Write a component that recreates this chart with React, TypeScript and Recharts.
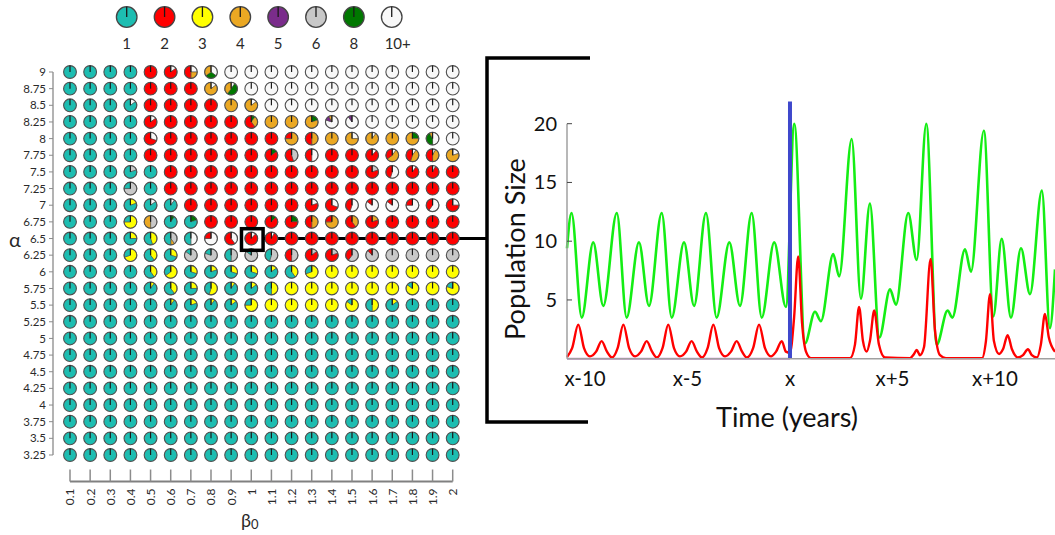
import React from 'react';
import {
  ScatterChart,
  Scatter,
  XAxis,
  YAxis,
  ReferenceLine,
  ReferenceDot,
  LineChart,
  Line,
} from 'recharts';

const FONT = 'Lato, "Open Sans", sans-serif';

// ---- Parameter scan (pie grid) ----
const BETA0 = [0.1, 0.2, 0.3, 0.4, 0.5, 0.6, 0.7, 0.8, 0.9, 1, 1.1, 1.2, 1.3, 1.4, 1.5, 1.6, 1.7, 1.8, 1.9, 2];
const ALPHA = [9, 8.75, 8.5, 8.25, 8, 7.75, 7.5, 7.25, 7, 6.75, 6.5, 6.25, 6, 5.75, 5.5, 5.25, 5, 4.75, 4.5, 4.25, 4, 3.75, 3.5, 3.25];

// Cycle-period classes: key letter, legend label, colour
const PERIOD_KEYS = ['T', 'R', 'Y', 'O', 'P', 'G', 'D', 'W'];
const PERIOD_LABELS = ['1', '2', '3', '4', '5', '6', '8', '10+'];
const PERIOD_COLORS = ['#1dbdb1', '#ff0000', '#ffff00', '#eba823', '#7a2c8b', '#c8c8c8', '#007800', '#f8f8f8'];
// slices run clockwise from 12 o'clock, longest period first
const SLICE_ORDER = ['W', 'D', 'G', 'P', 'O', 'Y', 'R', 'T'];

// One string per alpha row, one token per beta0 column (0.1 .. 2).
// Token = class letters with percentage shares, a bare letter means 100 %.
const row_9 = 'T T T T R W15R85 W25O25R50 W35D30O35 W W W W W W W W W W W W';
const row_8_75 = 'T T T T R R R W15O85 W10D50O40 W W W W W W W W W W W';
const row_8_5 = 'T T T W15T85 R R R R O W15O85 W W W W W W W W W W';
const row_8_25 = 'T T T T W15R85 R R R R D10O30R60 O O D20O80 W80P12O8 W90P10 W W W W W';
const row_8 = 'T T T T W30R70 R R R R R R O75R25 O50R50 O W25O75 W10O90 O D25O75 W50D42O8 W';
const row_7_75 = 'T T T T R R R R R R D15R85 G45R55 W50R50 R R W12R88 W10O55R35 W10O45R45 W8O42R50 W20O80';
const row_7_5 = 'T T T G20T80 T R R R R R R R R R R G20R80 W55R45 W10R90 W8R92 R';
const row_7_25 = 'T T T G75T25 T R R R R R R R R R R R R R R R';
const row_7 = 'T T T Y20T80 W15T85 W10T90 R R R R R R W20R80 W30R70 W55R45 W85R15 W85R15 W75R25 W60R40 W25R75';
const row_6_75 = 'T T T Y75T25 G50O50 D10T90 D20T80 R R R D12R88 D25R75 O50R50 O75R25 O40R60 O20R80 R R R R';
const row_6_5 = 'T T T Y25T75 Y45T55 G40O10T50 W50T50 W75R25 W40R60 W12R88 W8R92 R R R R R R R R R';
const row_6_25 = 'T T T Y70T30 Y40T60 Y30T70 G85T15 G80T20 G50T50 G85T15 G55T45 G50R50 G15R85 G20R80 G60R40 G88R12 G G G G';
const row_6 = 'T T T T Y40T60 Y65T35 Y30T70 Y20T80 Y30T70 Y30T70 Y15T85 Y40T60 Y70T30 Y Y Y Y Y Y Y';
const row_5_75 = 'T T T T Y10T90 Y40T60 Y25T75 Y55T45 Y10T90 Y15T85 Y50T50 Y Y Y Y Y Y Y85T15 Y Y80T20';
const row_5_5 = 'T T T T T Y10T90 Y20T80 Y10T90 Y15T85 Y75T25 Y Y Y Y Y85T15 Y50T50 Y15T85 T T T';
const row_5_25 = 'T T T T T T T T T T T T T T T T T T T T';
const row_5 = 'T T T T T T T T T T T T T T T T T T T T';
const row_4_75 = 'T T T T T T T T T T T T T T T T T T T T';
const row_4_5 = 'T T T T T T T T T T T T T T T T T T T T';
const row_4_25 = 'T T T T T T T T T T T T T T T T T T T T';
const row_4 = 'T T T T T T T T T T T T T T T T T T T T';
const row_3_75 = 'T T T T T T T T T T T T T T T T T T T T';
const row_3_5 = 'T T T T T T T T T T T T T T T T T T T T';
const row_3_25 = 'T T T T T T T T T T T T T T T T T T T T';

const ROWS = [
  row_9, row_8_75, row_8_5, row_8_25, row_8, row_7_75, row_7_5, row_7_25, row_7, row_6_75,
  row_6_5, row_6_25, row_6, row_5_75, row_5_5, row_5_25, row_5, row_4_75, row_4_5, row_4_25,
  row_4, row_3_75, row_3_5, row_3_25,
];

// Highlighted run shown in the time series
const HIGHLIGHT = { beta0: 1, alpha: 6.5 };

// ---- Time series around the switch at year x ----
const TIME_TICKS = [-10, -5, 0, 5, 10];
const TIME_LABELS = ['x-10', 'x-5', 'x', 'x+5', 'x+10'];
const POP_TICKS = [5, 10, 15, 20];

const GREEN_T = [-10.88, -10.66, -10.16, -9.6, -9.11, -8.45, -7.97, -7.37, -6.88, -6.26, -5.77, -5.17, -4.68, -4.1, -3.58, -2.96, -2.44, -1.87, -1.38, -0.77, -0.2, 0.21, 0.73, 1.22, 1.51, 2.11, 2.4, 3.01, 3.46, 3.9, 4.36, 4.88, 5.17, 5.77, 6.18, 6.65, 7.16, 7.69, 7.92, 8.54, 8.83, 9.46, 9.92, 10.33, 10.78, 11.27, 11.71, 12.29, 12.68, 12.93];
const GREEN_V = [9.4, 12.4, 3.5, 9.9, 4.5, 12.4, 3.5, 9.9, 4.5, 12.4, 3.5, 9.9, 4.5, 12.4, 3.5, 9.9, 4.5, 12.4, 3.5, 9.9, 4.4, 20, 1.3, 4.0, 3.2, 8.9, 7.0, 18.7, 5.1, 13.2, 1.8, 5.9, 4.6, 12.4, 8.4, 20, 1.2, 4.1, 3.5, 9.3, 7.4, 19.4, 3.6, 10.2, 3.5, 9.4, 5.5, 14.3, 2.6, 7.6];

const RED_T = [-10.88, -10.63, -10.33, -10.05, -9.76, -9.46, -9.19, -8.93, -8.68, -8.41, -8.13, -7.85, -7.56, -7.27, -6.99, -6.73, -6.49, -6.22, -5.94, -5.66, -5.37, -5.07, -4.8, -4.54, -4.29, -4.02, -3.74, -3.46, -3.17, -2.88, -2.6, -2.34, -2.1, -1.8, -1.51, -1.22, -0.93, -0.68, -0.4, -0.2, 0, 0.2, 0.4, 0.59, 0.78, 1.02, 2.93, 3.17, 3.37, 3.56, 3.74, 3.9, 4.11, 4.34, 4.63, 5.85, 6.05, 6.18, 6.34, 6.54, 6.86, 7.07, 7.32, 7.61, 9.37, 9.56, 9.76, 9.95, 10.2, 10.39, 10.62, 10.83, 11.12, 11.37, 11.61, 11.8, 12.05, 12.24, 12.44, 12.63, 12.93];
const RED_V = [0.15, 0.9, 2.9, 0.9, 0.2, 0.6, 1.5, 0.6, 0.1, 0.9, 2.9, 0.9, 0.2, 0.6, 1.5, 0.6, 0.1, 0.9, 2.9, 0.9, 0.2, 0.6, 1.5, 0.6, 0.1, 0.9, 2.9, 0.9, 0.2, 0.6, 1.5, 0.6, 0.1, 0.9, 2.9, 0.9, 0.2, 0.6, 1.5, 0.6, 0.5, 3.5, 8.7, 3.0, 0.6, 0.05, 0.05, 1.2, 4.4, 1.5, 0.6, 1.5, 4.1, 1.2, 0.1, 0.05, 0.4, 0.75, 0.3, 1.0, 8.5, 2.5, 0.3, 0.05, 0.05, 1.5, 5.5, 1.5, 0.4, 0.8, 2.0, 0.8, 0.1, 0.3, 0.8, 0.3, 0.1, 1.2, 3.8, 1.8, 0.6];

const PURPLE_T = [-10.88, 0];
const PURPLE_V = [0, 0];

// ---- derived tables ----
type Part = { k: string; v: number };

function parseCell(tok: string): Part[] {
  const out: Part[] = [];
  const re = /([A-Z])(\d*)/g;
  let m: RegExpExecArray | null;
  while ((m = re.exec(tok))) out.push({ k: m[1], v: m[2] ? Number(m[2]) : 100 });
  return out;
}

const CELLS = ALPHA.flatMap((a, i) =>
  ROWS[i].trim().split(/\s+/).map((tok, j) => ({ a, b: BETA0[j], parts: parseCell(tok) }))
);

const zip = (ts: number[], vs: number[]) => ts.map((t, i) => ({ t, v: vs[i] }));
const GREEN = zip(GREEN_T, GREEN_V);
const RED = zip(RED_T, RED_V);
const PURPLE = zip(PURPLE_T, PURPLE_V);

const colorOf = (k: string) => PERIOD_COLORS[PERIOD_KEYS.indexOf(k)];

function PieGlyph({ cx, cy, r, parts }: { cx: number; cy: number; r: number; parts: Part[] }) {
  const sorted = SLICE_ORDER.map((k) => parts.find((p) => p.k === k)).filter(Boolean) as Part[];
  const total = sorted.reduce((s, p) => s + p.v, 0);
  let ang = 0;
  const slices = sorted.map((p, i) => {
    const frac = p.v / total;
    const a0 = ang;
    const a1 = ang + frac * Math.PI * 2;
    ang = a1;
    if (frac > 0.999) return <circle key={i} cx={cx} cy={cy} r={r} fill={colorOf(p.k)} />;
    const x0 = cx + r * Math.sin(a0);
    const y0 = cy - r * Math.cos(a0);
    const x1 = cx + r * Math.sin(a1);
    const y1 = cy - r * Math.cos(a1);
    const large = a1 - a0 > Math.PI ? 1 : 0;
    return (
      <path
        key={i}
        d={`M${cx},${cy} L${x0},${y0} A${r},${r} 0 ${large} 1 ${x1},${y1} Z`}
        fill={colorOf(p.k)}
        stroke="#3a3a3a"
        strokeWidth={0.5}
      />
    );
  });
  return (
    <g>
      {slices}
      <circle cx={cx} cy={cy} r={r} fill="none" stroke="#505050" strokeWidth={1.1} />
      <line x1={cx} y1={cy} x2={cx} y2={cy - r} stroke="#1a1a1a" strokeWidth={1.2} />
    </g>
  );
}

const BetaTick = (props: any) => {
  const { x, y, payload } = props;
  return (
    <g>
      <line x1={x} x2={x} y1={y - 7} y2={y - 19} stroke="#8c8c8c" strokeWidth={1.5} />
      <text
        x={x}
        y={y}
        transform={`rotate(-90 ${x} ${y})`}
        textAnchor="end"
        dominantBaseline="central"
        fontSize={12}
        fill="#2a2a2a"
        fontFamily={FONT}
      >
        {payload.value}
      </text>
    </g>
  );
};

const PopTick = (props: any) => {
  const { x, y, payload } = props;
  return (
    <g>
      <line x1={x + 10} x2={x + 15} y1={y} y2={y} stroke="#444" strokeWidth={1} />
      <text x={x} y={y} dy="0.35em" textAnchor="end" fontSize={20} fill="#111" fontFamily={FONT}>
        {payload.value}
      </text>
    </g>
  );
};

const timeLabel = (v: number) => TIME_LABELS[TIME_TICKS.indexOf(v)] ?? '';

export default function App() {
  return (
    <div
      style={{
        position: 'absolute',
        left: 0,
        top: 0,
        width: 1055,
        height: 535,
        background: '#fff',
        overflow: 'hidden',
        fontFamily: FONT,
      }}
    >
      {/* pie grid */}
      <div style={{ position: 'absolute', left: 0, top: 0 }}>
        <ScatterChart width={500} height={535} margin={{ top: 72, right: 47.3, bottom: 23.5, left: 8 }}>
          <XAxis
            type="number"
            dataKey="b"
            domain={[0.0156, 2]}
            ticks={BETA0}
            interval={0}
            axisLine={false}
            tickLine={false}
            tickSize={0}
            tickMargin={7}
            height={30}
            tick={<BetaTick />}
          />
          <YAxis
            type="number"
            dataKey="a"
            domain={[2.852, 9]}
            ticks={ALPHA}
            interval={0}
            width={45}
            axisLine={false}
            tickSize={4}
            tickMargin={3}
            tickLine={{ stroke: '#8c8c8c' }}
            tick={{ fontSize: 11.5, fill: '#2a2a2a', fontFamily: FONT }}
          />
          <ReferenceLine
            segment={[{ x: 0.0156, y: 3.25 }, { x: 0.0156, y: 9 }]}
            stroke="#9a9a9a"
            strokeWidth={1.5}
            ifOverflow="visible"
          />
          <ReferenceLine
            segment={[{ x: 0.1, y: 2.852 }, { x: 2, y: 2.852 }]}
            stroke="#808080"
            strokeWidth={2}
            ifOverflow="visible"
          />
          <Scatter
            data={CELLS}
            isAnimationActive={false}
            shape={(p: any) => <PieGlyph cx={p.cx} cy={p.cy} r={6.4} parts={p.payload.parts} />}
          />
          <ReferenceLine
            segment={[{ x: HIGHLIGHT.beta0 + 0.054, y: HIGHLIGHT.alpha }, { x: 2.17, y: HIGHLIGHT.alpha }]}
            stroke="#000"
            strokeWidth={3}
            ifOverflow="visible"
          />
          <ReferenceDot
            x={HIGHLIGHT.beta0}
            y={HIGHLIGHT.alpha}
            ifOverflow="visible"
            shape={(p: any) => (
              <rect x={p.cx - 9.8} y={p.cy - 9.8} width={21.6} height={21.6} fill="none" stroke="#000" strokeWidth={3.5} />
            )}
          />
        </ScatterChart>
      </div>

      {/* population time series */}
      <div style={{ position: 'absolute', left: 490, top: 0 }}>
        <LineChart width={565} height={440} margin={{ top: 123.7, right: 0, bottom: 51.3, left: 37 }}>
          <XAxis
            type="number"
            dataKey="t"
            domain={[-10.88, 12.93]}
            ticks={TIME_TICKS}
            interval={0}
            tickFormatter={timeLabel}
            axisLine={{ stroke: '#a0a0a0', strokeWidth: 1.5 }}
            tickLine={false}
            tickSize={0}
            tickMargin={13}
            height={30}
            tick={{ fontSize: 20.5, fill: '#111', fontFamily: FONT }}
          />
          <YAxis
            type="number"
            domain={[0, 20]}
            ticks={POP_TICKS}
            interval={0}
            width={40}
            axisLine={{ stroke: '#a0a0a0', strokeWidth: 1.5 }}
            tickLine={false}
            tickSize={0}
            tickMargin={10}
            tick={<PopTick />}
          />
          <Line data={PURPLE} dataKey="v" type="linear" stroke="#c88fd0" strokeWidth={2} dot={false} isAnimationActive={false} />
          <Line data={GREEN} dataKey="v" type="monotone" stroke="#14ee14" strokeWidth={2.6} dot={false} isAnimationActive={false} />
          <Line data={RED} dataKey="v" type="monotone" stroke="#ff0000" strokeWidth={2.4} dot={false} isAnimationActive={false} />
          <ReferenceLine
            segment={[{ x: 0, y: 0 }, { x: 0, y: 21.9 }]}
            stroke="#3f48cc"
            strokeWidth={4}
            ifOverflow="visible"
          />
        </LineChart>
      </div>

      {/* legend, axis titles and bracket */}
      <svg
        width={1055}
        height={535}
        style={{ position: 'absolute', left: 0, top: 0, pointerEvents: 'none' }}
      >
        {PERIOD_KEYS.map((k, i) => {
          const cx = 126.7 + i * 37.86;
          return (
            <g key={k}>
              <circle cx={cx} cy={17} r={10.3} fill={PERIOD_COLORS[i]} stroke="#444" strokeWidth={1.3} />
              <line x1={cx} y1={17} x2={cx} y2={6.7} stroke="#1a1a1a" strokeWidth={1.3} />
              <text
                x={cx + (PERIOD_LABELS[i].length > 1 ? 6 : 0)}
                y={48.5}
                textAnchor="middle"
                fontSize={15}
                fill="#2a2a2a"
                fontFamily={FONT}
              >
                {PERIOD_LABELS[i]}
              </text>
            </g>
          );
        })}

        <text x={15} y={247} textAnchor="middle" fontSize={20} fill="#2a2a2a" fontFamily={FONT}>
          α
        </text>
        <text x={241} y={527} fontSize={18} fill="#2a2a2a" fontFamily={FONT}>
          β<tspan fontSize={13} dy={2}>0</tspan>
        </text>

        <path d="M590,58 L487,58 L487,422 L588,422" fill="none" stroke="#000" strokeWidth={3.5} />

        <text
          x={514}
          y={249}
          transform="rotate(-90 514 249)"
          textAnchor="middle"
          dominantBaseline="central"
          fontSize={27}
          fill="#111"
          fontFamily={FONT}
        >
          Population Size
        </text>
        <text x={787} y={427} textAnchor="middle" fontSize={27} fill="#111" fontFamily={FONT}>
          Time (years)
        </text>
      </svg>
    </div>
  );
}
